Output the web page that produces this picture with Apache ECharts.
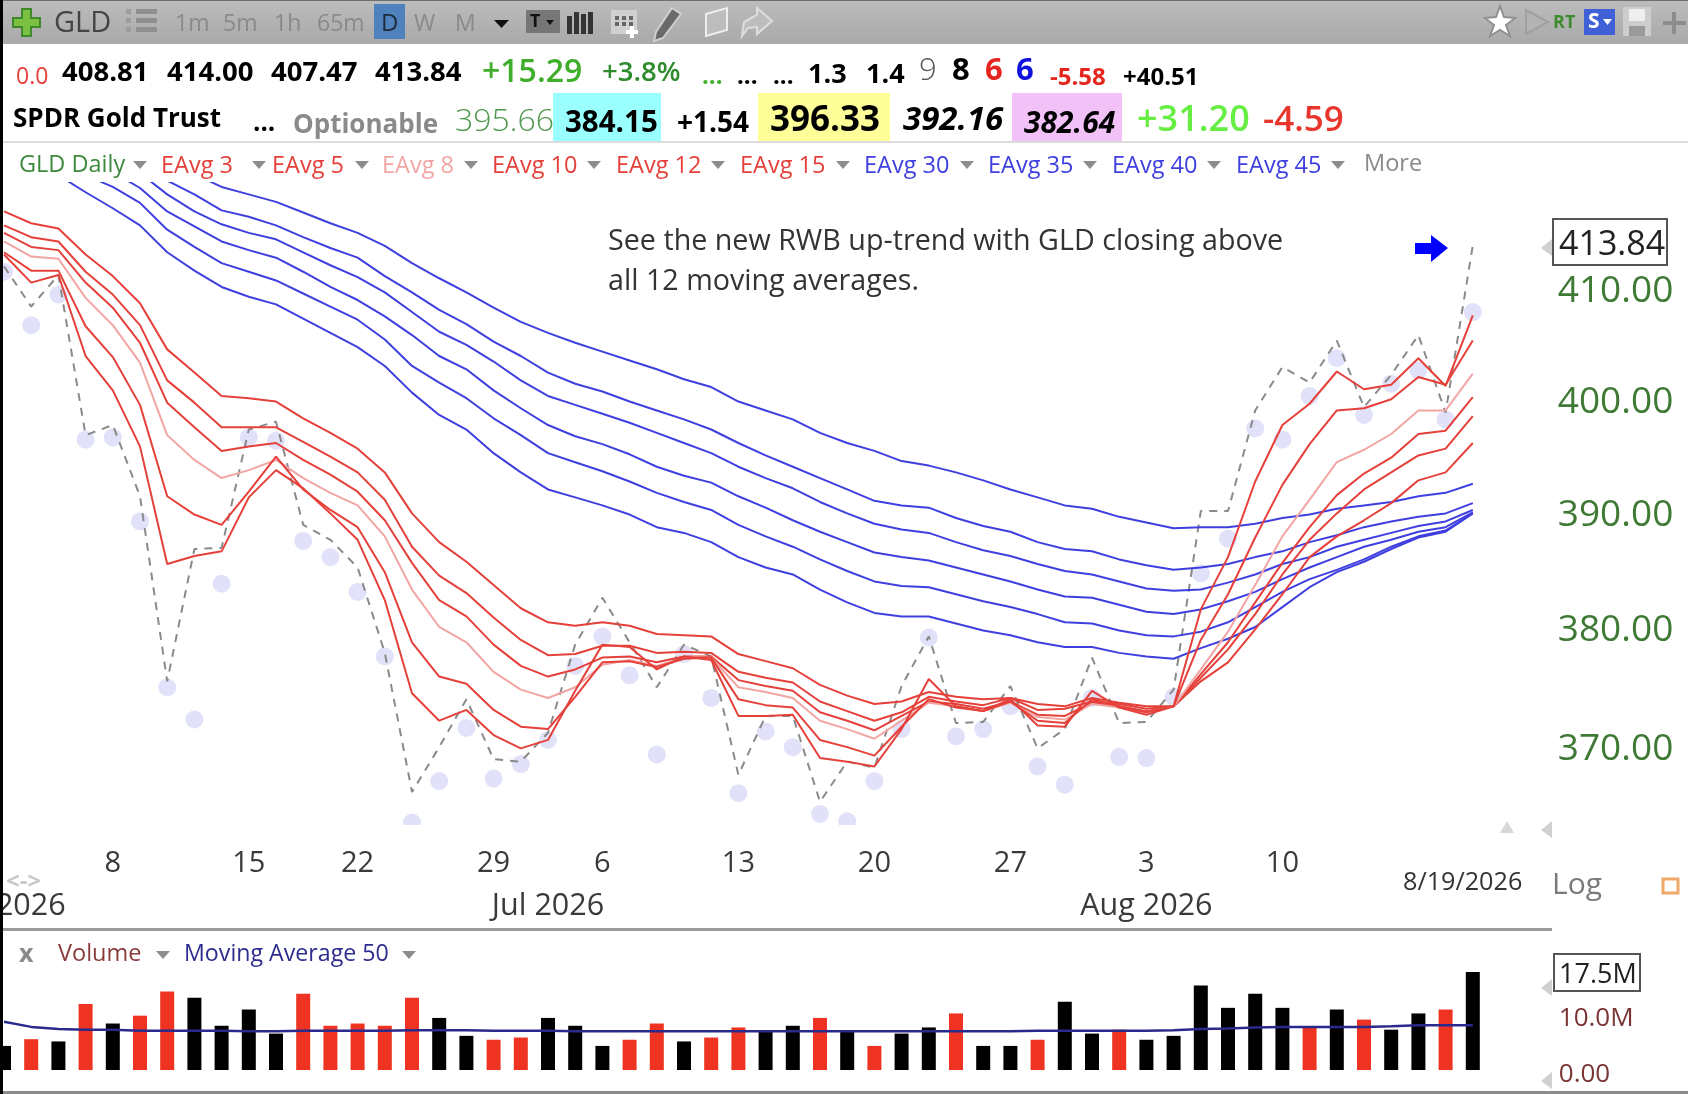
<!DOCTYPE html>
<html><head><meta charset="utf-8">
<style>html,body{margin:0;padding:0;background:#fff}#c{width:1688px;height:1094px;filter:blur(0.55px)}</style>
<script src="https://cdn.jsdelivr.net/npm/echarts@6/dist/echarts.min.js"></script>
</head><body><div id="c"></div>
<script>
const dates=['6/2','6/3','6/4','6/5','6/8','6/9','6/10','6/11','6/12','6/15','6/16','6/17','6/18','6/22','6/23','6/24','6/25','6/26','6/29','6/30','7/1','7/2','7/6','7/7','7/8','7/9','7/10','7/13','7/14','7/15','7/16','7/17','7/20','7/21','7/22','7/23','7/24','7/27','7/28','7/29','7/30','7/31','8/3','8/4','8/5','8/6','8/7','8/10','8/11','8/12','8/13','8/14','8/17','8/18','8/19','',''];
const dayTicks={4:'8',9:'15',13:'22',18:'29',22:'6',27:'13',32:'20',37:'27',42:'3',47:'10'};
const monthTicks={0:'Jun 2026',20:'Jul 2026',42:'Aug 2026'};
const priceTicks=[370,380,390,400,410];
const priceMin=363.4, priceMax=420.14;

const closes=[411.9,408.2,411.1,396.6,397.5,391.2,375.3,386.6,386.7,397.1,397.8,388.7,387.4,385.0,377.7,366.1,369.8,373.8,368.8,368.6,371.0,378.4,382.4,378.6,374.8,378.4,377.4,367.5,372.4,372.4,365.3,368.6,368.1,374.9,379.1,371.8,371.9,374.9,369.7,371.3,377.3,371.8,371.9,374.6,389.9,389.9,398.8,402.7,401.3,405.1,399.1,402.0,405.6,398.6,413.84];
const lows=[411.4,406.5,409.3,396.2,396.4,389.0,374.8,372.1,383.6,396.4,396.1,387.3,385.9,382.9,377.4,363.6,367.0,371.4,367.2,368.4,370.4,376.6,379.1,375.8,369.2,377.6,373.9,366.0,371.1,369.8,364.3,363.7,367.0,371.3,379.0,370.7,371.3,373.2,368.2,366.7,373.9,369.0,368.9,374.0,384.5,387.5,397.2,396.2,400.1,403.5,398.4,401.2,402.4,398.0,407.7];

const eavg3=[413.0,410.4,411.1,403.7,400.6,395.6,385.3,386.0,386.4,391.1,393.5,391.9,389.7,387.4,382.2,374.3,372.0,372.9,370.8,369.7,370.4,374.5,378.4,378.2,376.3,377.4,377.1,372.4,372.4,372.5,368.9,368.6,368.2,371.3,375.5,373.2,372.8,373.8,371.6,371.5,374.5,373.1,372.5,373.2,381.4,385.9,392.5,397.5,399.4,402.3,400.7,401.1,403.5,401.0,407.4];
const eavg5=[413.2,411.5,411.5,406.4,403.6,399.3,391.2,389.6,388.7,391.6,394.7,391.8,390.0,388.5,384.6,378.6,375.7,375.1,372.9,371.5,371.3,374.0,376.9,377.0,376.5,377.2,377.3,373.8,373.3,373.1,370.4,369.8,369.1,371.5,373.8,373.1,372.8,373.6,372.0,371.8,373.8,373.2,372.7,373.2,378.8,382.7,387.6,392.2,395.8,398.8,399.0,399.8,401.8,401.1,405.1];
const eavg8=[414.2,412.8,412.6,409.0,406.5,403.1,396.6,394.4,392.8,393.5,394.4,392.8,391.5,390.4,387.7,383.1,379.9,378.6,376.1,374.6,373.9,374.8,376.7,377.1,376.6,377.3,377.3,374.8,374.4,373.9,372.0,371.3,370.5,372.0,373.5,373.2,372.8,373.5,372.3,372.1,373.4,373.1,372.7,373.2,376.3,379.5,383.5,387.7,390.9,394.2,395.3,396.7,398.8,398.8,402.1];
const eavg10=[415.0,413.7,413.4,410.4,408.1,404.9,399.5,397.3,395.2,395.6,395.9,394.4,393.1,391.6,389.1,385.4,382.2,380.8,378.4,376.6,375.7,376.3,377.3,377.4,376.9,377.4,377.4,375.4,374.9,374.5,372.7,372.0,371.2,372.4,373.6,373.4,373.0,373.6,372.5,372.4,373.5,373.2,372.8,373.2,375.9,378.6,382.0,385.4,388.5,391.3,393.2,394.6,396.7,397.0,400.0];
const eavg12=[415.7,414.6,414.2,411.4,409.3,406.5,401.5,399.5,397.3,397.3,397.3,396.0,394.7,393.3,390.9,386.8,384.3,382.8,380.7,378.8,377.5,377.6,378.3,378.3,377.7,377.8,377.7,376.1,375.6,375.2,373.6,372.8,372.0,372.7,374.0,373.6,373.3,373.9,372.9,373.0,373.6,373.4,373.0,373.2,375.6,378.0,381.0,384.4,387.4,389.7,391.8,393.3,394.8,395.4,398.3];
const eavg15=[417.0,415.9,415.4,413.0,411.0,408.5,404.3,402.2,400.1,399.9,399.6,398.1,396.8,395.4,393.3,389.7,387.2,385.5,383.5,381.5,380.3,380.0,380.3,380.0,379.3,379.2,379.1,377.6,377.0,376.4,375.0,374.1,373.4,373.6,374.4,374.0,373.8,373.9,373.4,373.2,373.9,373.5,373.2,373.2,375.3,376.9,379.7,382.7,385.9,387.7,389.1,390.6,392.6,393.3,395.9];
const eavg30=[423.4,422.0,420.4,418.8,417.3,415.7,413.2,411.5,410.0,409.1,408.4,407.1,405.8,404.5,402.8,400.4,398.4,397.1,395.0,393.3,391.8,391.1,390.4,389.6,388.5,388.0,387.2,385.9,385.0,384.4,383.1,382.0,381.1,380.8,380.8,380.2,379.6,379.2,378.6,378.2,378.2,377.7,377.4,377.2,378.1,378.9,379.9,381.6,383.3,384.6,385.5,386.6,387.6,388.1,389.7];
const eavg35=[424.4,423.1,421.8,420.4,419.3,417.8,415.3,413.7,412.2,411.4,410.6,409.4,408.2,407.0,405.2,402.8,401.3,399.9,398.1,396.6,395.0,394.2,393.4,392.5,391.5,390.7,390.0,388.7,387.7,386.8,385.7,384.7,383.8,383.4,383.3,382.7,382.1,381.6,381.0,380.3,380.2,379.6,379.2,379.1,379.5,380.3,381.6,382.9,384.0,384.8,385.7,386.8,387.7,388.2,389.7];
const eavg40=[424.7,423.8,422.9,421.8,420.7,419.2,417.0,415.6,414.2,413.4,412.7,411.4,410.0,408.8,407.3,405.6,403.7,402.5,400.6,399.0,397.5,396.5,395.8,394.9,393.8,393.0,392.4,391.2,390.2,389.1,388.1,387.2,386.3,385.9,385.6,385.0,384.4,383.8,383.1,382.5,382.4,381.8,381.2,381.0,381.4,382.1,382.9,384.0,385.0,385.9,386.8,387.4,388.1,388.5,389.8];
const eavg45=[425.5,424.6,423.6,422.7,421.8,420.6,418.6,417.0,415.8,415.0,414.4,413.2,412.0,410.9,409.5,407.7,405.9,404.7,403.2,401.5,400.1,399.3,398.5,397.7,396.8,395.9,395.0,393.8,392.8,391.9,390.7,389.7,388.8,388.3,388.0,387.2,386.5,386.0,385.3,384.7,384.4,383.8,383.2,383.0,383.1,383.7,384.4,385.3,385.9,386.8,387.4,388.0,388.6,389.0,390.0];
const eavg50=[426.2,425.1,424.0,423.0,422.0,421.1,419.9,418.6,417.1,416.5,415.7,414.6,413.6,412.7,411.0,409.5,407.9,406.6,405.0,403.7,402.2,401.2,400.5,399.6,398.8,398.0,397.1,395.9,394.8,393.8,392.8,391.8,390.8,390.4,390.2,389.3,388.6,388.1,387.2,386.6,386.4,385.7,385.2,384.8,385.0,385.3,385.9,386.4,387.2,387.8,388.5,389.0,389.4,389.7,390.6];
const eavg60=[426.9,425.9,425.0,424.1,423.2,422.2,421.3,420.5,419.3,418.6,417.9,416.9,415.9,415.0,413.8,412.2,410.8,409.5,408.1,406.8,405.8,404.9,404.1,403.3,402.5,401.6,400.9,399.6,398.8,398.0,396.8,395.9,395.2,394.3,393.9,393.3,392.6,391.8,391.1,390.4,390.1,389.4,388.9,388.4,388.5,388.5,388.8,389.3,389.6,390.1,390.4,390.7,391.2,391.5,392.3];

const volumes=[4.3,5.5,5.1,11.8,8.3,9.7,14.0,12.9,7.9,10.8,6.5,13.6,7.9,8.3,7.9,12.9,9.3,6.1,5.4,5.8,9.3,7.9,4.3,5.4,8.3,5.1,5.8,7.6,6.9,7.9,9.3,6.9,4.3,6.5,7.6,10.1,4.3,4.3,5.4,12.2,6.5,7.2,5.4,6.1,15.1,11.1,13.6,11.1,7.7,10.8,9.0,7.2,10.1,10.8,17.5];
const volumeUp=[0,1,0,1,0,1,1,0,0,0,0,1,1,1,1,1,0,0,1,1,0,0,0,1,1,0,1,1,0,0,1,0,1,0,0,1,0,0,1,0,0,1,0,0,0,0,0,0,1,0,1,0,0,1,0];
const volumeMA=[8.6,7.7,7.3,7.2,7.2,7.0,7.0,7.0,7.0,6.9,6.9,7.0,7.0,7.0,7.0,7.1,7.1,7.1,7.0,7.0,7.0,6.9,6.9,6.9,6.9,6.9,6.9,6.9,6.9,6.9,6.9,6.9,6.9,6.9,6.9,6.9,6.9,6.9,7.0,7.0,7.0,7.0,7.0,7.1,7.3,7.4,7.6,7.7,7.7,7.7,7.7,7.8,8.0,8.0,8.0];

const RED='#e5403a',PINK='#f2a6a4',BLUE='#3f3fe0';
const reds=[['EAvg 15',eavg15,RED],['EAvg 12',eavg12,RED],['EAvg 10',eavg10,RED],['EAvg 8',eavg8,PINK],['EAvg 5',eavg5,RED],['EAvg 3',eavg3,RED]];
const blues=[['EAvg 60',eavg60],['EAvg 50',eavg50],['EAvg 45',eavg45],['EAvg 40',eavg40],['EAvg 35',eavg35],['EAvg 30',eavg30]];
const font='"Open Sans"';

const g=[];
const rect=(x,y,w,h,fill)=>g.push({type:'rect',silent:true,z:20,shape:{x,y,width:w,height:h},style:{fill}});
const T=(text,x,y,size,fill,o={})=>g.push({type:'text',silent:true,z:22,x,y,style:{text,fill,font:`${o.i?'italic ':''}${o.w||400} ${size}px ${o.f||font}`,textAlign:o.a||'left',textVerticalAlign:'middle'}});
const poly=(pts,fill,stroke)=>g.push({type:'polygon',silent:true,z:22,shape:{points:pts},style:{fill,stroke,lineWidth:stroke?2:0}});
const tri=(x,y,c='#8d8d8d')=>poly([[x,y],[x+14,y],[x+7,y+8]],c);

// pane edges: the plot is cropped at these bands
rect(3,176,1549,6,'#fff');
rect(3,825,1549,14,'#fff');

// toolbar
g.push({type:'rect',silent:true,z:20,shape:{x:0,y:0,width:1688,height:44},style:{fill:new echarts.graphic.LinearGradient(0,0,0,1,[{offset:0,color:'#bcbcbc'},{offset:1,color:'#a9a9a9'}])}});
rect(0,0,1688,1,'#6f6f6f');
poly([[22,9],[31,9],[31,18],[40,18],[40,27],[31,27],[31,36],[22,36],[22,27],[13,27],[13,18],[22,18]],'#7cc043','#3e8a2a');
T('GLD',54,24,29,'#444');
[12,21,30].forEach(y=>{rect(136,y-3,21,5,'#8f8f8f');rect(126,y-3,5,5,'#9c9c9c');});
[['1m',175],['5m',223],['1h',274],['65m',317],['W',414],['M',455]].forEach(a=>T(a[0],a[1],24,23,'#8a8a8a'));
rect(374,4,31,35,'#4f81bd');T('D',381,24,24,'#1d2b3a');
poly([[494,20],[509,20],[501.5,28]],'#111');
rect(526,10,34,23,'#767676');T('T',530,22,18,'#111',{w:700});poly([[546,20],[554,20],[550,25]],'#111');
[[567,12,18],[574,8,22],[581,10,20],[588,8,22]].forEach(b=>rect(b[0],b[1]+4,5,b[2],'#333'));
rect(611,10,26,24,'#d0d0d0');[[615,16],[622,16],[629,16],[615,22],[622,22],[629,22]].forEach(p=>rect(p[0],p[1],4,4,'#666'));
poly([[630,26],[634,26],[634,30],[638,30],[638,34],[634,34],[634,38],[630,38],[630,34],[626,34],[626,30],[630,30]],'#fff');
poly([[672,8],[681,14],[663,38],[654,41],[656,32]],'#6a6a6a','#cfcfcf');
poly([[706,14],[727,8],[727,30],[706,36]],'#bdbdbd','#eee');
poly([[757,8],[772,21],[757,34],[757,27],[748,28],[742,36],[744,22],[757,15]],'#bdbdbd','#dedede');
poly([[1500,6],[1504,17],[1515,18],[1506,25],[1510,36],[1500,30],[1490,36],[1494,25],[1485,18],[1496,17]],'#fff','#8f8f8f');
poly([[1526,10],[1548,22],[1526,34]],'#b3b3b3','#a0a0a0');
T('RT',1553,23,18,'#3c8c2e',{w:700});
rect(1584,9,31,26,'#4060d8');T('S',1588,22,21,'#fff',{w:700});poly([[1603,19],[1612,19],[1607.5,25]],'#fff');
rect(1623,7,28,29,'#cdcdcd');rect(1629,9,16,12,'#efefef');rect(1629,26,16,10,'#9a9a9a');
rect(1672,12,4,22,'#8c8c8c');rect(1663,21,23,4,'#8c8c8c');

// quote rows
rect(553,93,108,49,'#99ffff');rect(758,93,132,49,'#ffff99');rect(1012,93,110,49,'#f1c1f8');
rect(0,141,1688,2,'#dcdcdc');
T('0.0',16,77,23,'#e5403a');
[['408.81',62],['414.00',167],['407.47',271],['413.84',375]].forEach(a=>T(a[0],a[1],73,27.5,'#000',{w:700}));
T('+15.29',482,73,32,'#3fae2a',{w:600});
T('+3.8%',602,73,27.5,'#2e8b2e',{w:600});
T('...',702,77,24,'#3fae2a',{w:700});T('...',737,77,24,'#000',{w:700});T('...',773,77,24,'#000',{w:700});
T('1.3',808,75,27,'#000',{w:700});T('1.4',866,75,27,'#000',{w:700});
T('9',919,71,31,'#555',{w:300});T('8',952,71,31,'#000',{w:700});T('6',985,71,31,'#e5261f',{w:700});T('6',1016,71,31,'#1111dd',{w:700});
T('-5.58',1050,78,24,'#e5261f',{w:700});T('+40.51',1123,78,24,'#000',{w:700});
T('SPDR Gold Trust',13,120,26,'#000',{w:700});
T('...',253,124,26,'#000',{w:700});
T('Optionable',293,126,26,'#8a8a8a',{w:700});
T('395.66',455,122,32,'#4f9a4f',{w:300});
T('384.15',565,124,29.5,'#000',{w:700});
T('+1.54',677,124,28,'#000',{w:700});
T('396.33',770,121,35,'#000',{w:700});
T('392.16',903,121,33,'#000',{w:700,i:1});
T('382.64',1024,124,30,'#000',{w:700,i:1});
T('+31.20',1137,121,36,'#66ee44',{w:600});
T('-4.59',1263,121,35,'#e8362c',{w:600});

// legend row
T('GLD Daily',19,165,23.5,'#3d8a3d');tri(133,161);
[['EAvg 3',161,252,RED],['EAvg 5',272,355,RED],['EAvg 8',382,464,PINK],['EAvg 10',492,587,RED],['EAvg 12',616,711,RED],['EAvg 15',740,836,RED],['EAvg 30',864,960,BLUE],['EAvg 35',988,1083,BLUE],['EAvg 40',1112,1207,BLUE],['EAvg 45',1236,1331,BLUE]].forEach(a=>{T(a[0],a[1],166,23.5,a[3]);tri(a[2],161);});
T('More',1364,164,23.5,'#8a8a8a');

// note + price tag
T('See the new RWB up-trend with GLD closing above',608,242,28.7,'#333');
T('all 12 moving averages.',608,282,28.7,'#333');
poly([[1415,243],[1431,243],[1431,235],[1448,248],[1431,262],[1431,254],[1415,254]],'#0000ff');
g.push({type:'rect',silent:true,z:21,shape:{x:1553,y:219,width:114,height:46},style:{fill:'#fff',stroke:'#555',lineWidth:2}});
T('413.84',1559,245,34,'#222');
poly([[1552,239],[1552,256],[1541,248]],'#d0d0d0');
poly([[1500,833],[1514,833],[1507,821]],'#d8d8d8');
poly([[1552,821],[1552,838],[1541,830]],'#d0d0d0');

// lower strip
T('8/19/2026',1403,883,25.2,'#333');
T('Log',1552,885,30,'#7a7a7a');
g.push({type:'rect',silent:true,z:21,shape:{x:1663,y:879,width:15,height:14},style:{fill:'#fff',stroke:'#f0a868',lineWidth:3}});
T('<->',6,882,24,'#c8c8c8',{w:700});
rect(3,928,1549,3,'#9a9a9a');
rect(0,1091,1688,3,'#8c8c8c');

// volume header
T('x',19,955,25,'#8a8a8a',{w:700});
T('Volume',58,954,23.5,'#8b3a3a');tri(156,951);
T('Moving Average 50',184,954,23.2,'#2d2d90');tri(402,951);
g.push({type:'rect',silent:true,z:21,shape:{x:1554,y:954,width:86,height:37},style:{fill:'#fff',stroke:'#555',lineWidth:2}});
T('17.5M',1559,975,27,'#222');
poly([[1552,979],[1552,996],[1541,988]],'#d0d0d0');
poly([[1552,1072],[1552,1089],[1541,1081]],'#d0d0d0');
rect(0,0,3,1094,'#000');

const hide={axisLine:{show:false},axisTick:{show:false},splitLine:{show:false}};
const lineSeries=(name,data,color,w)=>({name,type:'line',data,xAxisIndex:0,yAxisIndex:0,symbol:'none',silent:true,clip:true,lineStyle:{color,width:w||2},z:4});

const chart=echarts.init(document.getElementById('c'),null,{renderer:'canvas'});
chart.setOption({
 animation:false,backgroundColor:'#fff',
 grid:[{left:-9.6,top:178,width:1550.4,height:647,outerBoundsMode:'none'},{left:-9.6,top:958,width:1550.4,height:112,outerBoundsMode:'none'}],
 xAxis:[
  {type:'category',gridIndex:0,position:'bottom',data:dates,...hide,axisLabel:{interval:0,margin:24,fontFamily:font,fontSize:29,color:'#3a3a3a',formatter:(v,i)=>dayTicks[i]||''}},
  {type:'category',gridIndex:0,position:'bottom',data:dates,...hide,axisLabel:{interval:0,margin:66,fontFamily:font,fontSize:30.5,color:'#3a3a3a',formatter:(v,i)=>monthTicks[i]||''}},
  {type:'category',gridIndex:1,position:'bottom',data:dates,...hide,axisLabel:{show:false}}
 ],
 yAxis:[
  {type:'log',gridIndex:0,position:'right',min:priceMin,max:priceMax,logBase:10,...hide,
   axisLabel:{customValues:priceTicks,margin:17,formatter:v=>'{a|'+Number(v).toFixed(2)+'}',rich:{a:{fontFamily:font,fontSize:37,color:'#3f7a35',padding:[10,0,0,0]}}}},
  {type:'value',gridIndex:1,position:'right',min:0,max:20,interval:10,...hide,
   axisLabel:{margin:18,formatter:v=>v===0?'{b|0.00}':(v===10?'{b|10.0M}':''),rich:{b:{fontFamily:font,fontSize:26,color:'#7a3434',padding:[9,0,0,0]}}}}
 ],
 graphic:{elements:g},
 series:[
  {name:'Low',type:'scatter',data:lows,xAxisIndex:0,yAxisIndex:0,symbolSize:18,silent:true,clip:true,itemStyle:{color:'rgba(205,205,245,0.75)'},z:2},
  {name:'Close',type:'line',data:closes,xAxisIndex:0,yAxisIndex:0,symbol:'none',silent:true,clip:true,lineStyle:{color:'#8a8a8a',width:2,type:[8,7]},z:3},
  ...blues.map(b=>lineSeries(b[0],b[1],BLUE,2)),
  ...reds.map(r=>lineSeries(r[0],r[1],r[2],2)),
  {name:'Volume',type:'bar',data:volumes.map((v,i)=>({value:v,itemStyle:{color:volumeUp[i]?'#ee3322':'#000'}})),xAxisIndex:2,yAxisIndex:1,barWidth:14,silent:true,z:2},
  {name:'Moving Average 50',type:'line',data:volumeMA,xAxisIndex:2,yAxisIndex:1,symbol:'none',silent:true,lineStyle:{color:'#2a2a8c',width:2.5},z:3}
 ]
});
</script></body></html>
